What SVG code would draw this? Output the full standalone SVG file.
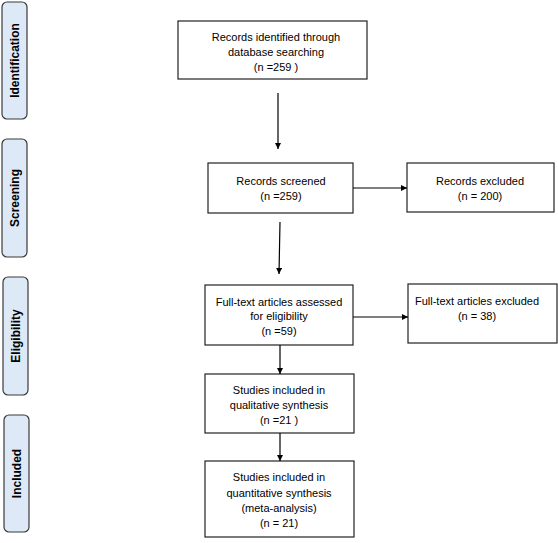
<svg xmlns="http://www.w3.org/2000/svg" width="558" height="543" viewBox="0 0 558 543">
<defs>
<marker id="ah" viewBox="0 0 10 10" refX="10" refY="5" markerWidth="6" markerHeight="6" orient="auto" markerUnits="userSpaceOnUse">
<path d="M0,0 L10,5 L0,10 z" fill="#000"/>
</marker>
<style>
.phase rect{fill:#dde9f6;stroke:#3a3a3a;stroke-width:1.2}
.phase text{font-family:"Liberation Sans",Arial,sans-serif;font-weight:bold;font-size:12px;fill:#000;text-anchor:middle}
.box rect{fill:#fff;stroke:#222;stroke-width:1.2}
.box text{font-family:"Liberation Sans",Arial,sans-serif;font-size:11px;fill:#000;text-anchor:middle}
.conn line{stroke:#000;stroke-width:1.2;marker-end:url(#ah)}
</style>
</defs>
<rect width="558" height="543" fill="#fff"/>
<g id="phase-identification" class="phase">
<rect x="2" y="2" width="25" height="117" rx="5"/>
<text transform="translate(19,60.5) rotate(-90)">Identification</text>
</g>
<g id="phase-screening" class="phase">
<rect x="2" y="139" width="25" height="118" rx="5"/>
<text transform="translate(19,198) rotate(-90)">Screening</text>
</g>
<g id="phase-eligibility" class="phase">
<rect x="3" y="277" width="25" height="118" rx="5"/>
<text transform="translate(20,336) rotate(-90)">Eligibility</text>
</g>
<g id="phase-included" class="phase">
<rect x="4" y="415" width="25" height="117" rx="5"/>
<text transform="translate(21,473.5) rotate(-90)">Included</text>
</g>
<g id="identified" class="box">
<rect x="178" y="21" width="189" height="58"/>
<text x="276" y="41">Records identified through</text>
<text x="276" y="56">database searching</text>
<text x="276" y="71">(n =259 )</text>
</g>
<g id="screened" class="box">
<rect x="208" y="163" width="145" height="50"/>
<text x="281" y="185">Records screened</text>
<text x="281" y="200">(n =259)</text>
</g>
<g id="excluded" class="box">
<rect x="407" y="163" width="147" height="49"/>
<text x="480" y="185">Records excluded</text>
<text x="480" y="200">(n = 200)</text>
</g>
<g id="assessed" class="box">
<rect x="205" y="285" width="148" height="60"/>
<text x="279" y="306">Full-text articles assessed</text>
<text x="279" y="320">for eligibility</text>
<text x="279" y="335">(n =59)</text>
</g>
<g id="ft-excluded" class="box">
<rect x="408" y="284" width="149" height="59"/>
<text x="477" y="305">Full-text articles excluded</text>
<text x="477" y="320">(n = 38)</text>
</g>
<g id="qualitative" class="box">
<rect x="205" y="374" width="149" height="59"/>
<text x="279" y="394">Studies included in</text>
<text x="279" y="409">qualitative synthesis</text>
<text x="279" y="424">(n =21 )</text>
</g>
<g id="quantitative" class="box">
<rect x="205" y="461" width="149" height="76"/>
<text x="279" y="481">Studies included in</text>
<text x="279" y="497">quantitative synthesis</text>
<text x="279" y="512">(meta-analysis)</text>
<text x="279" y="527">(n = 21)</text>
</g>
<g id="connectors" class="conn">
<line x1="278" y1="93" x2="278" y2="149"/>
<line x1="353" y1="188" x2="407" y2="188"/>
<line x1="280" y1="222" x2="279" y2="274"/>
<line x1="353" y1="317" x2="408" y2="317"/>
<line x1="280" y1="345" x2="280" y2="374"/>
<line x1="280" y1="433" x2="280" y2="461"/>
</g>
</svg>
